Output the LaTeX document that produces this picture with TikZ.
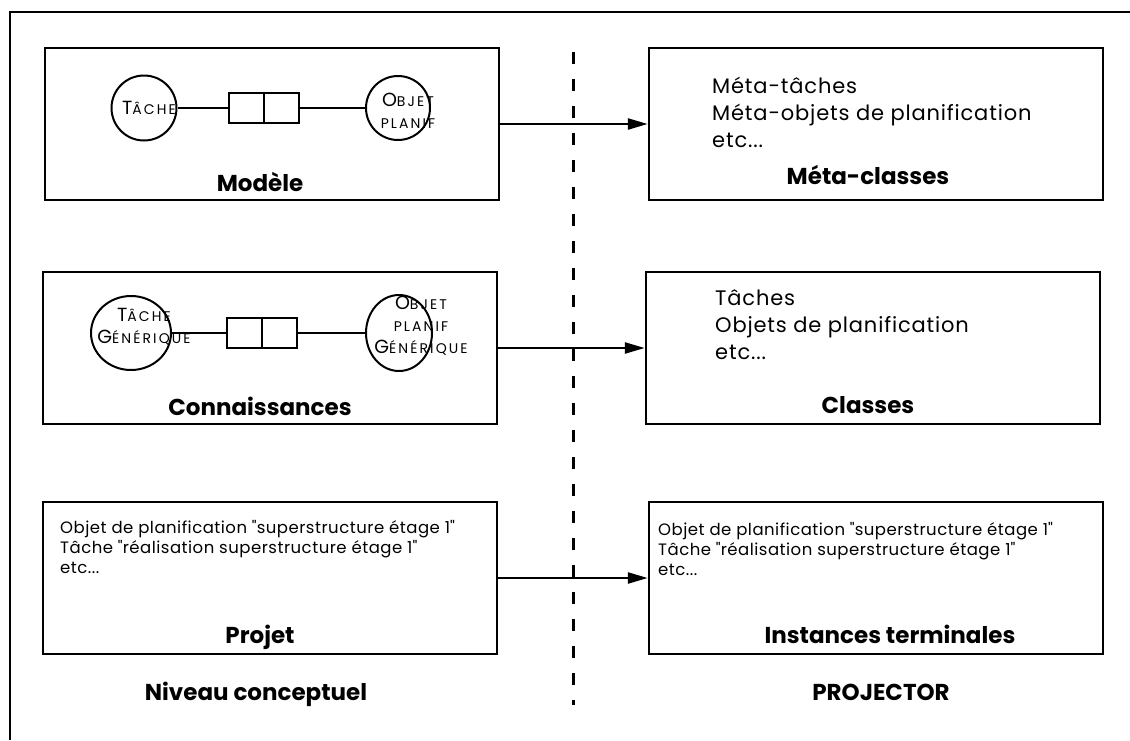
\documentclass[tikz,border=0pt]{standalone}
\usepackage{fontspec}
\setmainfont{Poppins}
\usetikzlibrary{arrows.meta, positioning, calc, shapes.geometric}

% petites capitales simulees
\newcommand{\pc}[2]{{\fontsize{19}{19}\selectfont #1}{\fontsize{14}{14}\selectfont\addfontfeature{LetterSpace=15}#2}}

\begin{document}
\begin{tikzpicture}[x=1pt, y=-1pt, font=\fontsize{21}{27}\selectfont\addfontfeature{LetterSpace=4},
    boite/.style={draw, line width=2.5pt, minimum width=454pt, minimum height=152pt, inner sep=0pt},
    titre/.style={font=\fontsize{23}{27}\selectfont\bfseries, anchor=base},
    rond/.style={draw, ellipse, line width=2pt, inner sep=0pt},
    rondtxt/.style={align=center, inner sep=0pt, font=\fontsize{19}{22}\selectfont},
    assoc/.style={draw, line width=2pt, minimum width=70pt, minimum height=30pt, inner sep=0pt},
    lien/.style={line width=2pt},
    fleche/.style={-{Triangle[length=20pt, width=11pt]}, line width=2.5pt},
    liste/.style={align=left, anchor=north west, inner sep=0pt},
    petit/.style={liste, font=\fontsize{16.5}{20}\selectfont\addfontfeature{LetterSpace=3}}]

  \useasboundingbox (0,0) rectangle (1130,740);
  \draw[line width=2pt] (10,740) -- (10,12) -- (1130,12);

  % separation niveau conceptuel / PROJECTOR
  \coordinate (sep1) at (573,52);
  \coordinate (sep2) at (573,705);
  \draw[line width=3pt, dash pattern=on 12pt off 15pt] (sep1) -- (sep2);

  % --- Modele -> Meta-classes
  \node[boite] (modele) at (272,124) {};
  \node[boite] (metaclasses) at (876,124) {};
  \node[rond, minimum width=65pt, minimum height=65pt] (tache) at (144,108) {};
  \node[rond, minimum width=64pt, minimum height=64pt] (objet) at (398,108) {};
  \node[assoc] (assoc1) at (264,108) {};
  \draw[lien] (assoc1.north) -- (assoc1.south);
  \draw[lien] (tache.east) -- (assoc1.west);
  \draw[lien] (assoc1.east) -- (objet.west);
  \node[rondtxt] at ($(tache)+(5,0)$) {\pc{T}{ÂCHE}};
  \node[rondtxt] at ($(objet)+(10,3)$) {\pc{O}{BJET}\\\pc{}{PLANIF}};
  \node[titre] at (260,191) {Modèle};
  \node[liste] at (712,77) {Méta-tâches\\Méta-objets de planification\\etc...};
  \node[titre] at (868,184) {Méta-classes};
  \draw[fleche] (modele.east) -- (metaclasses.west);

  % --- Connaissances -> Classes
  \node[boite] (connaissances) at (270,348) {};
  \node[boite] (classes) at (873,348) {};
  \node[rond, minimum width=80pt, minimum height=74pt] (tacheg) at (131,333) {};
  \node[rond, minimum width=66pt, minimum height=76pt] (objetg) at (399,333) {};
  \node[assoc] (assoc2) at (262,333) {};
  \draw[lien] (assoc2.north) -- (assoc2.south);
  \draw[lien] (tacheg.east) -- (assoc2.west);
  \draw[lien] (assoc2.east) -- (objetg.west);
  \node[rondtxt] at (144,327) {\pc{T}{ÂCHE}\\\pc{G}{ÉNÉRIQUE}};
  \node[rondtxt] at (421,326) {\pc{O}{BJET}\\\pc{}{PLANIF}\\\pc{G}{ÉNÉRIQUE}};
  \node[titre] at (260,415) {Connaissances};
  \node[liste] at (715,289) {Tâches\\Objets de planification\\etc...};
  \node[titre] at (868,413) {Classes};
  \draw[fleche] (connaissances.east) -- (classes.west);

  % --- Projet -> Instances terminales
  \node[boite] (projet) at (270,578) {};
  \node[boite] (instances) at (876,578) {};
  \node[petit] at (60,520) {Objet de planification \textquotedbl superstructure étage 1\textquotedbl\\Tâche \textquotedbl réalisation superstructure étage 1\textquotedbl\\etc...};
  \node[petit] at (658,522) {Objet de planification \textquotedbl superstructure étage 1\textquotedbl\\Tâche \textquotedbl réalisation superstructure étage 1\textquotedbl\\etc...};
  \node[titre] at (260,643) {Projet};
  \node[titre] at (890,643) {Instances terminales};
  \draw[fleche] (projet.east) -- (instances.west);

  % niveaux
  \node[titre] at (256,700) {Niveau conceptuel};
  \node[titre] at (881,700) {PROJECTOR};
\end{tikzpicture}
\end{document}
